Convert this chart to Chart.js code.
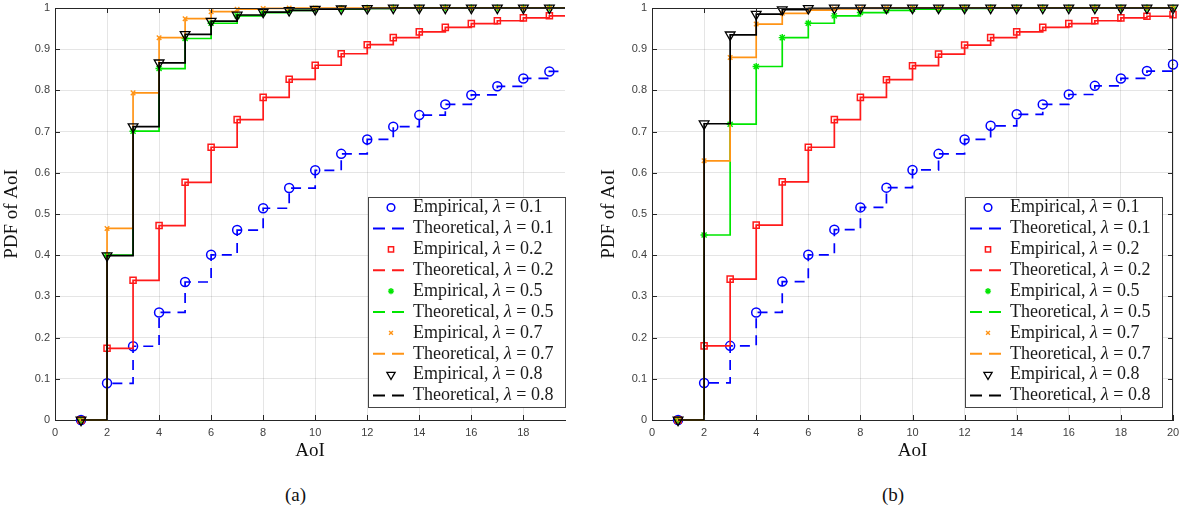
<!DOCTYPE html>
<html>
<head>
<meta charset="utf-8">
<script src="https://cdn.jsdelivr.net/npm/chart.js@4.4.0/dist/chart.umd.min.js"></script>
<style>
  body { margin: 0; background: #fff; width: 1187px; height: 514px; position: relative; overflow: hidden; }
  canvas { position: absolute; top: 0; }
  #cA { left: 0; }
  #cB { left: 597px; }
  .cap { position: absolute; top: 484px; font: 19px "Liberation Serif", serif; line-height: 22px; color: #111; }
</style>
</head>
<body>
<canvas id="cA" width="590" height="480"></canvas>
<canvas id="cB" width="590" height="480"></canvas>
<div class="cap" style="left:285px">(a)</div>
<div class="cap" style="left:882px">(b)</div>
<script>
// AoI values (x axis)
const aoi = [1, 2, 3, 4, 5, 6, 7, 8, 9, 10, 11, 12, 13, 14, 15, 16, 17, 18, 19, 20];
const lambdas = ['0.1', '0.2', '0.5', '0.7', '0.8'];

// (a)
const a01 = [0, 0.089, 0.179, 0.261, 0.335, 0.401, 0.461, 0.514, 0.563, 0.606, 0.646, 0.681, 0.712, 0.740, 0.766, 0.789, 0.810, 0.829, 0.846, 0.862];
const a02 = [0, 0.174, 0.339, 0.472, 0.577, 0.662, 0.729, 0.783, 0.827, 0.861, 0.889, 0.911, 0.928, 0.942, 0.953, 0.962, 0.969, 0.976, 0.981, 0.984];
const a05 = [0, 0.400, 0.701, 0.853, 0.926, 0.963, 0.981, 0.989, 0.994, 0.997, 0.998, 0.999, 1, 1, 1, 1, 1, 1, 1, 1];
const a07 = [0, 0.465, 0.794, 0.928, 0.974, 0.991, 0.997, 0.999, 1, 1, 1, 1, 1, 1, 1, 1, 1, 1, 1, 1];
const a08 = [0, 0.399, 0.712, 0.867, 0.936, 0.968, 0.983, 0.990, 0.994, 0.997, 0.998, 0.999, 1, 1, 1, 1, 1, 1, 1, 1];

// (b)
const b01 = [0, 0.090, 0.180, 0.261, 0.336, 0.401, 0.462, 0.516, 0.564, 0.607, 0.646, 0.681, 0.714, 0.742, 0.766, 0.790, 0.811, 0.829, 0.847, 0.863];
const b02 = [0, 0.180, 0.342, 0.473, 0.578, 0.662, 0.729, 0.783, 0.826, 0.860, 0.888, 0.910, 0.928, 0.942, 0.953, 0.962, 0.969, 0.976, 0.980, 0.984];
const b05 = [0, 0.449, 0.718, 0.858, 0.928, 0.963, 0.981, 0.989, 0.994, 0.997, 0.998, 0.999, 1, 1, 1, 1, 1, 1, 1, 1];
const b07 = [0, 0.629, 0.880, 0.961, 0.987, 0.995, 0.998, 0.999, 1, 1, 1, 1, 1, 1, 1, 1, 1, 1, 1, 1];
const b08 = [0, 0.719, 0.935, 0.985, 0.996, 0.999, 1, 1, 1, 1, 1, 1, 1, 1, 1, 1, 1, 1, 1, 1];

const yTicks = [0, 0.1, 0.2, 0.3, 0.4, 0.5, 0.6, 0.7, 0.8, 0.9, 1];

// look of each lambda (empirical marker + theoretical line)
const looks = [
  { color: '#0000ff', style: 'circle', r: 4.5, rot: 0, bw: 1.5, dash: [10, 7] },
  { color: '#ff1a1a', style: 'rect', r: 4.3, rot: 0, bw: 1.5, dash: [] },
  { color: '#00e600', style: 'star', r: 3.6, rot: 0, bw: 1.4, dash: [] },
  { color: '#ff9416', style: 'crossRot', r: 3.2, rot: 0, bw: 1.4, dash: [] },
  { color: '#000000', style: 'triangle', r: 5.6, rot: 180, bw: 1.3, dash: [] }
];

const pts = (xs, ys) => ys.map((v, i) => ({ x: xs[i], y: v }));

function buildSets(series, clipRight) {
  const sets = [];
  const clip = { left: 8, top: 8, right: clipRight, bottom: 8 };
  series.forEach((vals, i) => {
    const k = looks[i];
    sets.push({
      label: 'Empirical, λ = ' + lambdas[i],
      data: pts(aoi, vals),
      showLine: false,
      pointStyle: k.style,
      pointRadius: k.r,
      pointRotation: k.rot,
      pointBorderWidth: k.bw,
      pointBorderColor: k.color,
      pointBackgroundColor: 'rgba(0,0,0,0)',
      clip: clip,
      order: 20 - 2 * i
    });
    sets.push({
      label: 'Theoretical, λ = ' + lambdas[i],
      data: pts(aoi, vals),
      showLine: true,
      stepped: true,
      borderColor: k.color,
      borderWidth: 1.7,
      borderDash: k.dash,
      pointRadius: 0,
      clip: clip,
      order: 19 - 2 * i
    });
  });
  return sets;
}

// top/right frame, inward ticks and the boxed legend
const frame = {
  id: 'frame',
  afterDraw(chart, args, opts) {
    const { ctx, chartArea: a } = chart;
    const xs = chart.scales.x, ys = chart.scales.y;
    ctx.save();
    ctx.strokeStyle = '#262626';
    ctx.lineWidth = 1;
    ctx.setLineDash([]);
    ctx.beginPath();
    ctx.moveTo(a.left, a.top + 0.5); ctx.lineTo(a.right, a.top + 0.5);
    if (opts.right) { ctx.moveTo(a.right - 0.5, a.top); ctx.lineTo(a.right - 0.5, a.bottom); }
    xs.ticks.forEach(t => {
      const px = Math.round(xs.getPixelForValue(t.value)) + 0.5;
      ctx.moveTo(px, a.bottom); ctx.lineTo(px, a.bottom - 5);
      ctx.moveTo(px, a.top); ctx.lineTo(px, a.top + 5);
    });
    ys.ticks.forEach(t => {
      const py = Math.round(ys.getPixelForValue(t.value)) + 0.5;
      ctx.moveTo(a.left, py); ctx.lineTo(a.left + 5, py);
      if (opts.right) { ctx.moveTo(a.right, py); ctx.lineTo(a.right - 5, py); }
    });
    ctx.stroke();

    // legend
    const L = opts.box;
    ctx.fillStyle = '#fff';
    ctx.fillRect(L.x, L.y, L.w, L.h);
    ctx.strokeStyle = '#444';
    ctx.strokeRect(L.x + 0.5, L.y + 0.5, L.w, L.h);
    chart.data.datasets.forEach((ds, i) => {
      const cy = L.y + 10.5 + i * 20.9;
      const mx = L.x + 23;
      if (ds.showLine) {
        ctx.strokeStyle = ds.borderColor;
        ctx.lineWidth = 2;
        ctx.beginPath();
        ctx.moveTo(mx - 18, cy); ctx.lineTo(mx - 6, cy);
        ctx.moveTo(mx + 1, cy); ctx.lineTo(mx + 13, cy);
        ctx.stroke();
      } else {
        ctx.strokeStyle = ds.pointBorderColor;
        ctx.fillStyle = 'rgba(0,0,0,0)';
        ctx.lineWidth = ds.pointBorderWidth;
        Chart.helpers.drawPoint(ctx, {
          pointStyle: ds.pointStyle, radius: ds.pointRadius * 0.85,
          rotation: ds.pointRotation, borderWidth: ds.pointBorderWidth
        }, mx, cy);
      }
      const parts = ds.label.split('λ');
      let tx = L.x + 45;
      ctx.fillStyle = '#1a1a1a';
      ctx.textBaseline = 'middle';
      ctx.font = '18px "Liberation Serif"';
      ctx.fillText(parts[0], tx, cy); tx += ctx.measureText(parts[0]).width;
      ctx.font = 'italic 18px "Liberation Serif"';
      ctx.fillText('λ', tx, cy); tx += ctx.measureText('λ').width;
      ctx.font = '18px "Liberation Serif"';
      ctx.fillText(parts[1], tx, cy);
    });
    ctx.restore();
  }
};

function makeChart(id, series, xMax, padRight, clipRight, hasRight) {
  return new Chart(document.getElementById(id), {
    type: 'scatter',
    data: { datasets: buildSets(series, clipRight) },
    plugins: [frame],
    options: {
      responsive: false,
      animation: false,
      events: [],
      devicePixelRatio: 1,
      layout: { padding: { left: 0, top: 8, right: padRight, bottom: 0 } },
      plugins: {
        legend: { display: false },
        tooltip: { enabled: false },
        frame: { right: hasRight, box: { x: 368, y: 197, w: 197, h: 210 } }
      },
      scales: {
        x: {
          type: 'linear', min: 0, max: xMax,
          afterFit(s) { s.height = 60; },
          ticks: {
            stepSize: 2, includeBounds: false, padding: 6, maxRotation: 0, autoSkip: false,
            color: '#404040', font: { family: '"Liberation Sans"', size: 11 }
          },
          grid: { color: 'rgba(0,0,0,0.1)', drawTicks: false },
          border: { color: '#262626' },
          title: {
            display: true, text: 'AoI', color: '#111',
            font: { family: '"Liberation Serif"', size: 19 }, padding: { top: 0, bottom: 18 }
          }
        },
        y: {
          type: 'linear', min: 0, max: 1,
          afterFit(s) { s.width = 55; },
          afterBuildTicks(s) { s.ticks = yTicks.map(v => ({ value: v })); },
          ticks: {
            padding: 5, color: '#404040', font: { family: '"Liberation Sans"', size: 11, lineHeight: 0.4 },
            callback: v => String(+v.toFixed(1))
          },
          grid: { color: 'rgba(0,0,0,0.1)', drawTicks: false },
          border: { color: '#262626' },
          title: {
            display: true, text: 'PDF of AoI', color: '#111',
            font: { family: '"Liberation Serif"', size: 19 }, padding: { top: 1, bottom: 0 }
          }
        }
      }
    }
  });
}

makeChart('cA', [a01, a02, a05, a07, a08], 19.6, 25, 0, false);
makeChart('cB', [b01, b02, b05, b07, b08], 20, 14, 8, true);
</script>
</body>
</html>
